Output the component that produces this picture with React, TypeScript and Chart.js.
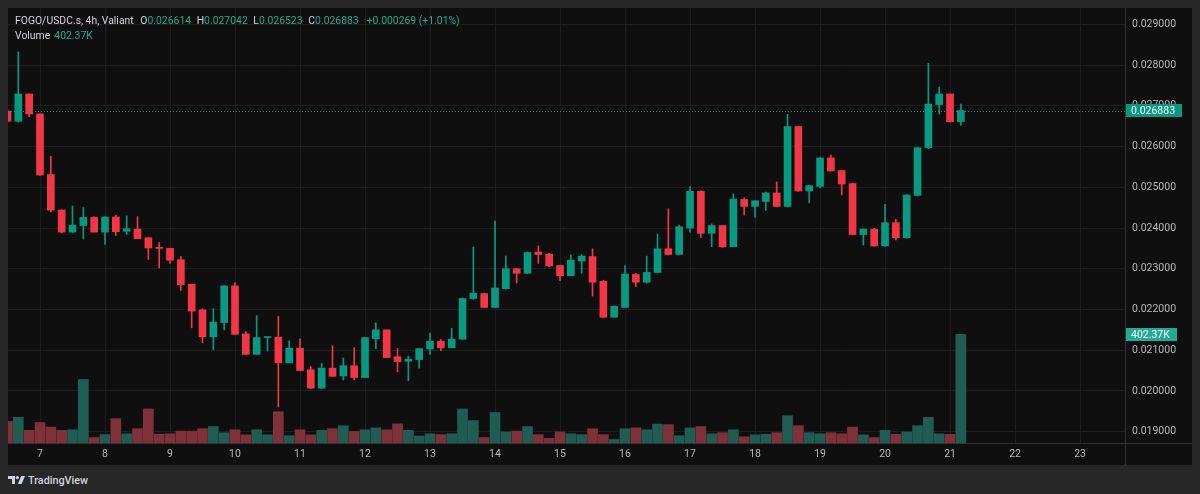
import React, { useEffect, useRef } from "react";
import { Chart, registerables } from "chart.js";

Chart.register(...registerables);

// 4h candles, first one = 6th 12:00, index 3 = 7th 00:00
const OPEN = [
  0.02687, 0.02662, 0.02729, 0.0268, 0.02531, 0.02444, 0.0239, 0.02406, 0.02426, 0.0239,
  0.02427, 0.02392, 0.02397, 0.02376, 0.02352, 0.0235, 0.02322, 0.02262, 0.02199, 0.02133,
  0.02168, 0.02258, 0.0214, 0.0209, 0.02131, 0.02132, 0.02069, 0.02105, 0.02052, 0.02007,
  0.02056, 0.02037, 0.02062, 0.02033, 0.02128, 0.0215, 0.02084, 0.02073, 0.02077, 0.02103,
  0.02122, 0.02106, 0.02127, 0.02227, 0.02239, 0.02205, 0.02251, 0.023, 0.02289, 0.02341,
  0.02336, 0.02308, 0.02283, 0.02319, 0.0233, 0.02269, 0.02181, 0.02205, 0.02286, 0.02267,
  0.02291, 0.02349, 0.02335, 0.024, 0.0249, 0.02387, 0.02406, 0.02354, 0.0247, 0.02453,
  0.02465, 0.02486, 0.02453, 0.02649, 0.02491, 0.02502, 0.02572, 0.02541, 0.02509, 0.02384,
  0.02397, 0.02356, 0.02413, 0.02376, 0.0248, 0.02597, 0.02703, 0.02729, 0.026614,
];
const HIGH = [
  0.0269, 0.02832, 0.02729, 0.0268, 0.02576, 0.02445, 0.02454, 0.0245, 0.02428, 0.02428,
  0.02432, 0.0243, 0.02428, 0.02376, 0.02364, 0.0235, 0.0233, 0.02262, 0.02202, 0.02202,
  0.02258, 0.02266, 0.02146, 0.02185, 0.02132, 0.02183, 0.02123, 0.02128, 0.0206, 0.02068,
  0.02111, 0.02081, 0.02106, 0.02131, 0.02167, 0.0215, 0.02104, 0.02086, 0.02104, 0.02142,
  0.02126, 0.02154, 0.02228, 0.02353, 0.0224, 0.02417, 0.02331, 0.02301, 0.02341, 0.02356,
  0.02338, 0.02308, 0.02334, 0.02335, 0.02349, 0.02272, 0.02209, 0.02308, 0.02289, 0.02331,
  0.02385, 0.02447, 0.02407, 0.02501, 0.02492, 0.0241, 0.02406, 0.02484, 0.02474, 0.02467,
  0.02488, 0.02513, 0.02679, 0.0265, 0.02505, 0.02573, 0.02579, 0.02542, 0.0251, 0.02398,
  0.02399, 0.02458, 0.02421, 0.02482, 0.02598, 0.02804, 0.02746, 0.02729, 0.027042,
];
const LOW = [
  0.0266, 0.0266, 0.02673, 0.02529, 0.0244, 0.02388, 0.02389, 0.02373, 0.0239, 0.0236,
  0.02382, 0.02384, 0.02374, 0.02323, 0.02302, 0.02313, 0.02247, 0.02155, 0.02118, 0.02101,
  0.0215, 0.02139, 0.0209, 0.0209, 0.02098, 0.01961, 0.02069, 0.0205, 0.02006, 0.02006,
  0.02036, 0.02027, 0.02027, 0.02033, 0.02104, 0.02082, 0.02047, 0.02025, 0.02056, 0.0209,
  0.02099, 0.02106, 0.02127, 0.02225, 0.02205, 0.02205, 0.0225, 0.02265, 0.02288, 0.02313,
  0.02305, 0.02271, 0.02283, 0.02289, 0.02233, 0.0218, 0.02181, 0.02205, 0.02256, 0.02265,
  0.0229, 0.02334, 0.02334, 0.0239, 0.02377, 0.02354, 0.02352, 0.02354, 0.02432, 0.02426,
  0.02443, 0.02452, 0.02452, 0.0249, 0.02462, 0.02499, 0.0254, 0.02481, 0.02383, 0.02358,
  0.02355, 0.02355, 0.02371, 0.02375, 0.0248, 0.02595, 0.0268, 0.0266, 0.026523,
];
const CLOSE = [
  0.02662, 0.02729, 0.0268, 0.0253, 0.02444, 0.0239, 0.02407, 0.02426, 0.0239, 0.02427,
  0.02391, 0.02398, 0.02374, 0.02351, 0.0235, 0.02321, 0.02261, 0.02196, 0.02133, 0.02169,
  0.02258, 0.02139, 0.0209, 0.02131, 0.02132, 0.02069, 0.02105, 0.0205, 0.02007, 0.02056,
  0.02036, 0.02062, 0.02033, 0.02131, 0.0215, 0.02082, 0.02072, 0.02078, 0.02104, 0.02122,
  0.02106, 0.02127, 0.02227, 0.0224, 0.02205, 0.02253, 0.023, 0.02289, 0.0234, 0.02335,
  0.02307, 0.02283, 0.02321, 0.02331, 0.02267, 0.02181, 0.02208, 0.02287, 0.02267, 0.02291,
  0.02349, 0.02335, 0.02403, 0.0249, 0.02387, 0.02406, 0.02354, 0.02471, 0.02453, 0.02467,
  0.02486, 0.02453, 0.02649, 0.02491, 0.02504, 0.02572, 0.0254, 0.02508, 0.02384, 0.02397,
  0.02356, 0.02413, 0.02376, 0.02481, 0.02597, 0.02704, 0.02729, 0.02661, 0.026883,
];
// volume in thousands
const VOLUME = [
  80, 95, 47, 76, 59, 47, 49, 235, 20, 31,
  90, 34, 53, 126, 32, 34, 44, 44, 53, 61,
  38, 49, 30, 49, 30, 116, 27, 49, 30, 47,
  53, 64, 43, 49, 56, 49, 71, 47, 26, 34,
  31, 34, 126, 83, 20, 113, 41, 44, 61, 31,
  17, 41, 34, 31, 53, 31, 13, 53, 56, 49,
  70, 68, 27, 56, 61, 34, 38, 49, 23, 30,
  32, 38, 101, 64, 38, 34, 38, 34, 59, 30,
  20, 47, 32, 41, 64, 95, 34, 32, 402.37,
];
const DAY_LABELS = ["7", "8", "9", "10", "11", "12", "13", "14", "15", "16", "17", "18", "19", "20", "21", "22", "23"];
const PRICE_TICKS = [0.019, 0.02, 0.021, 0.022, 0.023, 0.024, 0.025, 0.026, 0.027, 0.028, 0.029];
const FIRST_DAY_INDEX = 3;
const BARS_PER_DAY = 6;
const LAST_CLOSE = 0.026883;
const LAST_VOLUME = 402.37;
const LAST_VOLUME_TEXT = "402.37K";

const UP = "#089981";
const DOWN = "#f23645";
const VOL_UP = "#1f5d53";
const VOL_DOWN = "#7f3038";
const GRID = "#1e1e1e";
const TEXT = "#b8b8b8";
const FONT = "Roboto";

const decor = {
  id: "decor",
  afterDatasetsDraw(chart: any) {
    const { ctx, chartArea, scales } = chart;
    const y = Math.round(scales.y.getPixelForValue(LAST_CLOSE)) + 0.5;
    ctx.save();
    ctx.strokeStyle = UP;
    ctx.lineWidth = 1;
    ctx.setLineDash([1, 2]);
    ctx.beginPath();
    ctx.moveTo(chartArea.left, y);
    ctx.lineTo(chartArea.right, y);
    ctx.stroke();
    ctx.restore();
  },
  afterDraw(chart: any) {
    const { ctx, chartArea, scales, width, height } = chart;
    ctx.save();
    ctx.strokeStyle = "#333333";
    ctx.lineWidth = 1;
    ctx.beginPath();
    ctx.moveTo(chartArea.right + 0.5, 0);
    ctx.lineTo(chartArea.right + 0.5, height);
    ctx.moveTo(0, chartArea.bottom + 0.5);
    ctx.lineTo(width, chartArea.bottom + 0.5);
    ctx.stroke();

    const boxes = [
      { y: scales.y.getPixelForValue(LAST_CLOSE), w: 56, color: UP, text: LAST_CLOSE.toFixed(6) },
      { y: scales.yv.getPixelForValue(LAST_VOLUME), w: 51, color: "#22ab94", text: LAST_VOLUME_TEXT },
    ];
    ctx.font = `10.5px ${FONT}`;
    ctx.textBaseline = "middle";
    ctx.textAlign = "left";
    for (const b of boxes) {
      const top = Math.round(b.y - 6.5);
      ctx.fillStyle = b.color;
      ctx.fillRect(chartArea.right + 1, top, b.w, 13);
      ctx.fillStyle = "#ffffff";
      ctx.fillText(b.text, chartArea.right + 6, top + 7);
    }
    ctx.restore();
  },
};

export default function App() {
  const ref = useRef<HTMLCanvasElement>(null);

  useEffect(() => {
    document.body.style.margin = "0";
    document.body.style.background = "#272727";
    const idx = OPEN.map((_, i) => i);
    const isUp = idx.map((i) => CLOSE[i] >= OPEN[i]);
    const candleColors = isUp.map((u) => (u ? UP : DOWN));
    const volColors = isUp.map((u) => (u ? VOL_UP : VOL_DOWN));

    const chart = new Chart(ref.current as HTMLCanvasElement, {
      type: "bar",
      data: {
        datasets: [
          {
            label: "body",
            data: idx.map((i) => ({ x: i, y: [OPEN[i], CLOSE[i]] })) as any,
            backgroundColor: candleColors,
            borderWidth: 0,
            barThickness: 7,
            minBarLength: 1,
            grouped: false,
            yAxisID: "y",
            order: 1,
          } as any,
          {
            label: "wick",
            data: idx.map((i) => ({ x: i, y: [LOW[i], HIGH[i]] })) as any,
            backgroundColor: candleColors,
            borderWidth: 0,
            barThickness: 1,
            grouped: false,
            yAxisID: "y",
            order: 2,
          } as any,
          {
            label: "volume",
            data: idx.map((i) => ({ x: i, y: VOLUME[i] })) as any,
            backgroundColor: volColors,
            borderWidth: 0,
            barThickness: 10,
            grouped: false,
            yAxisID: "yv",
            order: 3,
          } as any,
        ],
      },
      options: {
        animation: false,
        responsive: true,
        maintainAspectRatio: false,
        events: [],
        layout: { padding: 0 },
        plugins: { legend: { display: false }, tooltip: { enabled: false } },
        scales: {
          x: {
            type: "linear",
            min: 0.046,
            max: 103.15,
            offset: false,
            grid: { color: GRID, drawTicks: false, offset: false },
            border: { display: false },
            afterBuildTicks: (s: any) => {
              s.ticks = DAY_LABELS.map((_, k) => ({ value: FIRST_DAY_INDEX + k * BARS_PER_DAY }));
            },
            afterFit: (s: any) => {
              s.height = 22;
              s.paddingLeft = 0;
              s.paddingRight = 0;
            },
            ticks: {
              color: TEXT,
              font: { family: FONT, size: 10.5 },
              padding: 5,
              maxRotation: 0,
              autoSkip: false,
              callback: (v: any) => DAY_LABELS[Math.round((Number(v) - FIRST_DAY_INDEX) / BARS_PER_DAY)] ?? "",
            },
          },
          y: {
            type: "linear",
            position: "right",
            min: 0.018723,
            max: 0.0294,
            grid: { color: GRID, drawTicks: false },
            border: { display: false },
            afterBuildTicks: (s: any) => {
              s.ticks = PRICE_TICKS.map((v) => ({ value: v }));
            },
            afterFit: (s: any) => {
              s.width = 67;
              s.paddingTop = 0;
              s.paddingBottom = 0;
            },
            ticks: {
              color: TEXT,
              font: { family: FONT, size: 10.5 },
              padding: 7,
              callback: (v: any) => Number(v).toFixed(6),
            },
          },
          yv: {
            type: "linear",
            display: false,
            min: 0,
            max: 1610,
          },
        },
      } as any,
      plugins: [decor],
    });
    return () => chart.destroy();
  }, []);

  const label: React.CSSProperties = { position: "absolute", color: "#d1d4dc", whiteSpace: "nowrap" };
  const val: React.CSSProperties = { color: "#22ab94" };

  return (
    <div
      style={{
        position: "relative",
        width: 1200,
        height: 494,
        background: "#272727",
        fontFamily: "Roboto, sans-serif",
        fontSize: "10.4px",
        lineHeight: "13px",
        overflow: "hidden",
      }}
    >
      <div style={{ position: "absolute", left: 8, top: 8, width: 1184, height: 457, background: "#0f0f0f" }}>
        <canvas ref={ref} />
      </div>
      <span style={{ ...label, left: 15, top: 14 }}>FOGO/USDC.s, 4h, Valiant</span>
      <span style={{ ...label, left: 140.3, top: 14 }}>
        O<span style={val}>0.026614</span>
      </span>
      <span style={{ ...label, left: 196.7, top: 14 }}>
        H<span style={val}>0.027042</span>
      </span>
      <span style={{ ...label, left: 253.3, top: 14 }}>
        L<span style={val}>0.026523</span>
      </span>
      <span style={{ ...label, left: 308.3, top: 14 }}>
        C<span style={val}>0.026883</span>
      </span>
      <span style={{ ...label, left: 366.7, top: 14, color: "#22ab94" }}>+0.000269 (+1.01%)</span>
      <span style={{ ...label, left: 15, top: 28.5 }}>Volume</span>
      <span style={{ ...label, left: 54.3, top: 28.5, color: "#22ab94" }}>402.37K</span>
      <svg style={{ position: "absolute", left: 8, top: 476 }} width="17" height="8" viewBox="0 0 17 8">
        <path d="M0 0 H7 V8 H4 V3 H0 Z" fill="#d1d4dc" />
        <circle cx="9.3" cy="1.6" r="1.6" fill="#d1d4dc" />
        <path d="M13.2 0 H17 L13.6 8 H9.8 Z" fill="#d1d4dc" />
      </svg>
      <span style={{ ...label, left: 28, top: 474, fontSize: "10.8px", fontWeight: 500 }}>TradingView</span>
    </div>
  );
}
